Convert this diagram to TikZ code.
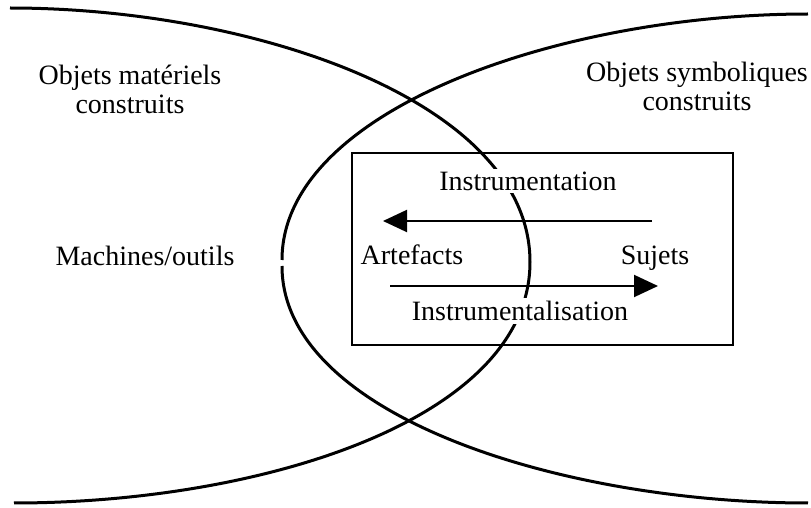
\documentclass[tikz,border=0pt]{standalone}
\usepackage{fontspec}
\setmainfont{Liberation Serif}
\usetikzlibrary{arrows.meta}
\tikzset{
  lbl/.style={font=\fontsize{14}{14.5}\selectfont, align=center},
  cut/.style={lbl, fill=white, inner sep=1.5pt},
  curve/.style={line width=1.5pt},
  flow/.style={line width=1pt, -{Triangle[length=12pt,width=11pt]}}
}
\begin{document}
\begin{tikzpicture}[x=0.5pt,y=-0.5pt]
\useasboundingbox (0,0) rectangle (811,508);
% left region (objets materiels)
\draw[curve] (10,8) .. controls (250,8) and (530,100) .. (530,262)
  .. controls (530,420) and (260,503) .. (14,503);
% right region (objets symboliques), small break at the apex
\draw[curve] (808,14) .. controls (560,14) and (282,110) .. (282,260);
\draw[curve] (282,266) .. controls (282,415) and (560,503) .. (808,503);
% frame
\node[draw, line width=1.2pt, inner sep=0pt, minimum width=190.5pt, minimum height=96pt] (cadre) at (542.5,249) {};
% arrow ends
\coordinate (s1) at (652,221);
\coordinate (a1) at (383,221);
\coordinate (a2) at (390,286);
\coordinate (s2) at (658,286);
\draw[flow] (s1) -- (a1);
\draw[flow] (a2) -- (s2);
% labels
\node[lbl] (materiels) at (130,89) {Objets matériels\\construits};
\node[lbl] (symboliques) at (697,86) {Objets symboliques\\construits};
\node[lbl] (machines) at (145,256) {Machines/outils};
\node[lbl] (artefacts) at (412,255) {Artefacts};
\node[lbl] (sujets) at (655,258) {Sujets};
\node[cut] (instrumentation) at (528,181) {Instrumentation};
\node[cut] (instrumentalisation) at (520,311) {Instrumentalisation};
\end{tikzpicture}
\end{document}
